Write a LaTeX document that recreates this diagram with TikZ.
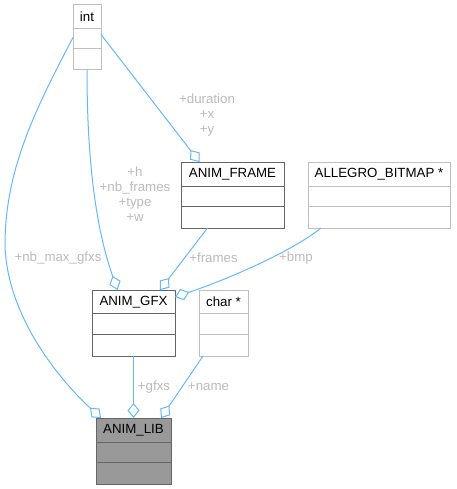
\documentclass[tikz,border=0pt]{standalone}
\usepackage{fontspec}
\setmainfont{Liberation Sans}
\usetikzlibrary{positioning,arrows.meta}
\definecolor{edgeblue}{HTML}{63B8FF}
\definecolor{lightline}{HTML}{BFBFBF}
\definecolor{darkline}{HTML}{666666}
\definecolor{libfill}{HTML}{999999}
\definecolor{labelgray}{HTML}{BBBBBB}
\tikzset{
  classrow/.style={draw, inner sep=0pt, outer sep=0pt, line width=1pt, font=\fontsize{13.3}{15}\selectfont},
  lightrow/.style={classrow, draw=lightline},
  darkrow/.style={classrow, draw=darkline},
  librow/.style={classrow, draw=darkline, fill=libfill},
  member/.style={edgeblue, line width=1pt, -{Diamond[open,length=15pt,width=12pt]}},
  memlabel/.style={text=labelgray, align=center, inner sep=0pt, font=\fontsize{13.3}{15}\selectfont}
}

\begin{document}
\begin{tikzpicture}[x=1pt,y=-1pt]
\useasboundingbox (0,0) rectangle (456,489);
% classes
\node[lightrow, minimum width=28pt, minimum height=24pt] (int) at (87,17) {int};
\node[lightrow, minimum width=28pt, minimum height=19.5pt, below=0pt of int] (int attr) {};
\node[lightrow, minimum width=28pt, minimum height=21.5pt, below=0pt of int attr] (int ops) {};

\node[darkrow, minimum width=103pt, minimum height=24pt] (frame) at (232.5,174) {ANIM\_FRAME};
\node[darkrow, minimum width=103pt, minimum height=20pt, below=0pt of frame] (frame attr) {};
\node[darkrow, minimum width=103pt, minimum height=22pt, below=0pt of frame attr] (frame ops) {};

\node[lightrow, minimum width=142pt, minimum height=24pt] (bitmap) at (379,174) {ALLEGRO\_BITMAP *};
\node[lightrow, minimum width=142pt, minimum height=20pt, below=0pt of bitmap] (bitmap attr) {};
\node[lightrow, minimum width=142pt, minimum height=22pt, below=0pt of bitmap attr] (bitmap ops) {};

\node[darkrow, minimum width=83pt, minimum height=23.5pt] (gfx) at (133.5,301.75) {ANIM\_GFX};
\node[darkrow, minimum width=83pt, minimum height=20.5pt, below=0pt of gfx] (gfx attr) {};
\node[darkrow, minimum width=83pt, minimum height=22pt, below=0pt of gfx attr] (gfx ops) {};

\node[lightrow, minimum width=49pt, minimum height=23.5pt] (char) at (223.5,301.75) {char *};
\node[lightrow, minimum width=49pt, minimum height=20.5pt, below=0pt of char] (char attr) {};
\node[lightrow, minimum width=49pt, minimum height=22pt, below=0pt of char attr] (char ops) {};

\node[librow, minimum width=75pt, minimum height=24pt] (lib) at (133.5,430) {ANIM\_LIB};
\node[librow, minimum width=75pt, minimum height=20pt, below=0pt of lib] (lib attr) {};
\node[librow, minimum width=75pt, minimum height=22pt, below=0pt of lib attr] (lib ops) {};

% members
\draw[member] ([yshift=-20.5pt]int.west) .. controls (35,110) and (5,170) .. (5,245)
  .. controls (7,320) and (65,385) .. ([xshift=5pt]lib.north west);
\draw[member] (int ops.south) .. controls (87,180) and (100,240) .. ([xshift=-16pt]gfx.north);
\draw[member] ([yshift=-17.5pt]int.east) -- ([xshift=-33pt]frame.north);
\draw[member] ([xshift=-25pt]frame ops.south) -- ([xshift=-15pt]gfx.north east);
\draw[member] ([xshift=-58pt]bitmap ops.south) .. controls (298,247) and (240,275) .. ([yshift=-7pt]gfx.north east);
\draw[member] (gfx ops.south) -- (lib.north);
\draw[member] ([xshift=-20.5pt]char ops.south) -- ([xshift=-10pt]lib.north east);

% labels
\node[memlabel] (lbl max) at (58,258) {+nb\_max\_gfxs};
\node[memlabel] (lbl size) at (135,194.5) {+h\\+nb\_frames\\+type\\+w};
\node[memlabel] (lbl dur) at (207,115.5) {+duration\\+x\\+y};
\node[memlabel] (lbl frames) at (213.5,258) {+frames};
\node[memlabel] (lbl bmp) at (296,258) {+bmp};
\node[memlabel] (lbl gfxs) at (154,387) {+gfxs};
\node[memlabel] (lbl name) at (208.5,387) {+name};
\end{tikzpicture}
\end{document}
